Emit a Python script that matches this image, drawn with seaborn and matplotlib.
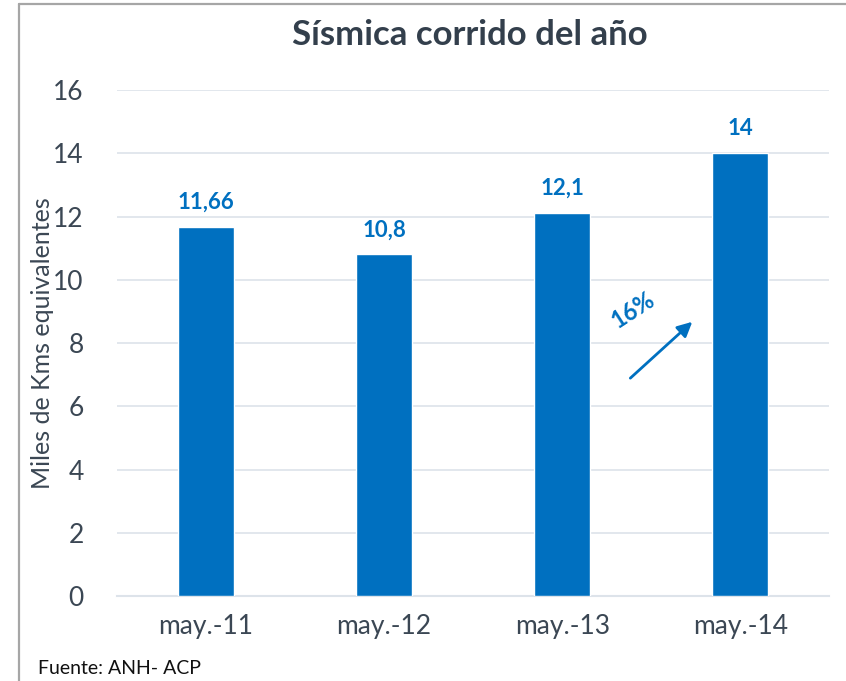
import matplotlib
matplotlib.use('Agg')
import matplotlib.pyplot as plt
import seaborn as sns
import pandas as pd

periodos = ['may.-11', 'may.-12', 'may.-13', 'may.-14']
kms = [11.66, 10.8, 12.1, 14]
etiquetas = ['11,66', '10,8', '12,1', '14']

AZUL = '#0070C0'
GRIS_TXT = '#3B4754'

sns.set_style('white')
plt.rcParams['font.family'] = ['Lato', 'DejaVu Sans']

df = pd.DataFrame({'periodo': periodos, 'kms': kms})

fig = plt.figure(figsize=(8.46, 6.81), dpi=100)
ax = fig.add_axes([0.1383, 0.1248, 0.842, 0.743])

sns.barplot(data=df, x='periodo', y='kms', color=AZUL, width=0.315,
            saturation=1, ax=ax, zorder=3)

ax.set_ylim(0, 16)
ax.set_xlim(-0.5, 3.5)
ax.set_yticks(range(0, 17, 2))
ax.yaxis.grid(True, color='#DDE3EA', linewidth=1.2, zorder=0)
ax.set_axisbelow(True)

for s in ['top', 'right', 'left']:
    ax.spines[s].set_visible(False)
ax.spines['bottom'].set_color('#DDE3EA')
ax.spines['bottom'].set_linewidth(1.5)

ax.tick_params(axis='y', length=0, labelsize=19, labelcolor=GRIS_TXT, pad=24)
ax.tick_params(axis='x', which='major', length=0, labelsize=19, labelcolor=GRIS_TXT, pad=13)
ax.set_xticks([-0.5, 0.5, 1.5, 2.5, 3.5], minor=True)
ax.tick_params(axis='x', which='minor', length=8, color='#DDE3EA', width=1.5)

ax.set_xlabel('')
ax.set_ylabel('Miles de Kms equivalentes', fontsize=18, color=GRIS_TXT, labelpad=0)
ax.yaxis.set_label_coords(-0.088, 0.5)

for i, (v, t) in enumerate(zip(kms, etiquetas)):
    ax.text(i, v + 0.45, t, ha='center', va='bottom', fontsize=16,
            fontweight='bold', color=AZUL)

ax.annotate('', xy=(2.742, 8.73), xytext=(2.371, 6.83),
            arrowprops=dict(arrowstyle='-|>', color=AZUL, lw=2,
                            mutation_scale=22))
ax.text(2.40, 9.04, '16%', rotation=33, ha='center', va='center',
        fontsize=17, fontweight='bold', color=AZUL)

fig.text(0.555, 0.948, 'Sísmica corrido del año', ha='center', va='center',
         fontsize=25, fontweight='bold', color='#333F4C')
fig.text(0.045, 0.019, 'Fuente: ANH- ACP', ha='left', va='center',
         fontsize=14, color='#111111')

# marco gris
fig.add_artist(plt.Line2D([0.0225, 0.0225], [0, 0.994], color='#A6A6A6', lw=1.6))
fig.add_artist(plt.Line2D([0.0225, 1.0], [0.994, 0.994], color='#A6A6A6', lw=1.6))

fig.savefig('out.png', dpi=100)
